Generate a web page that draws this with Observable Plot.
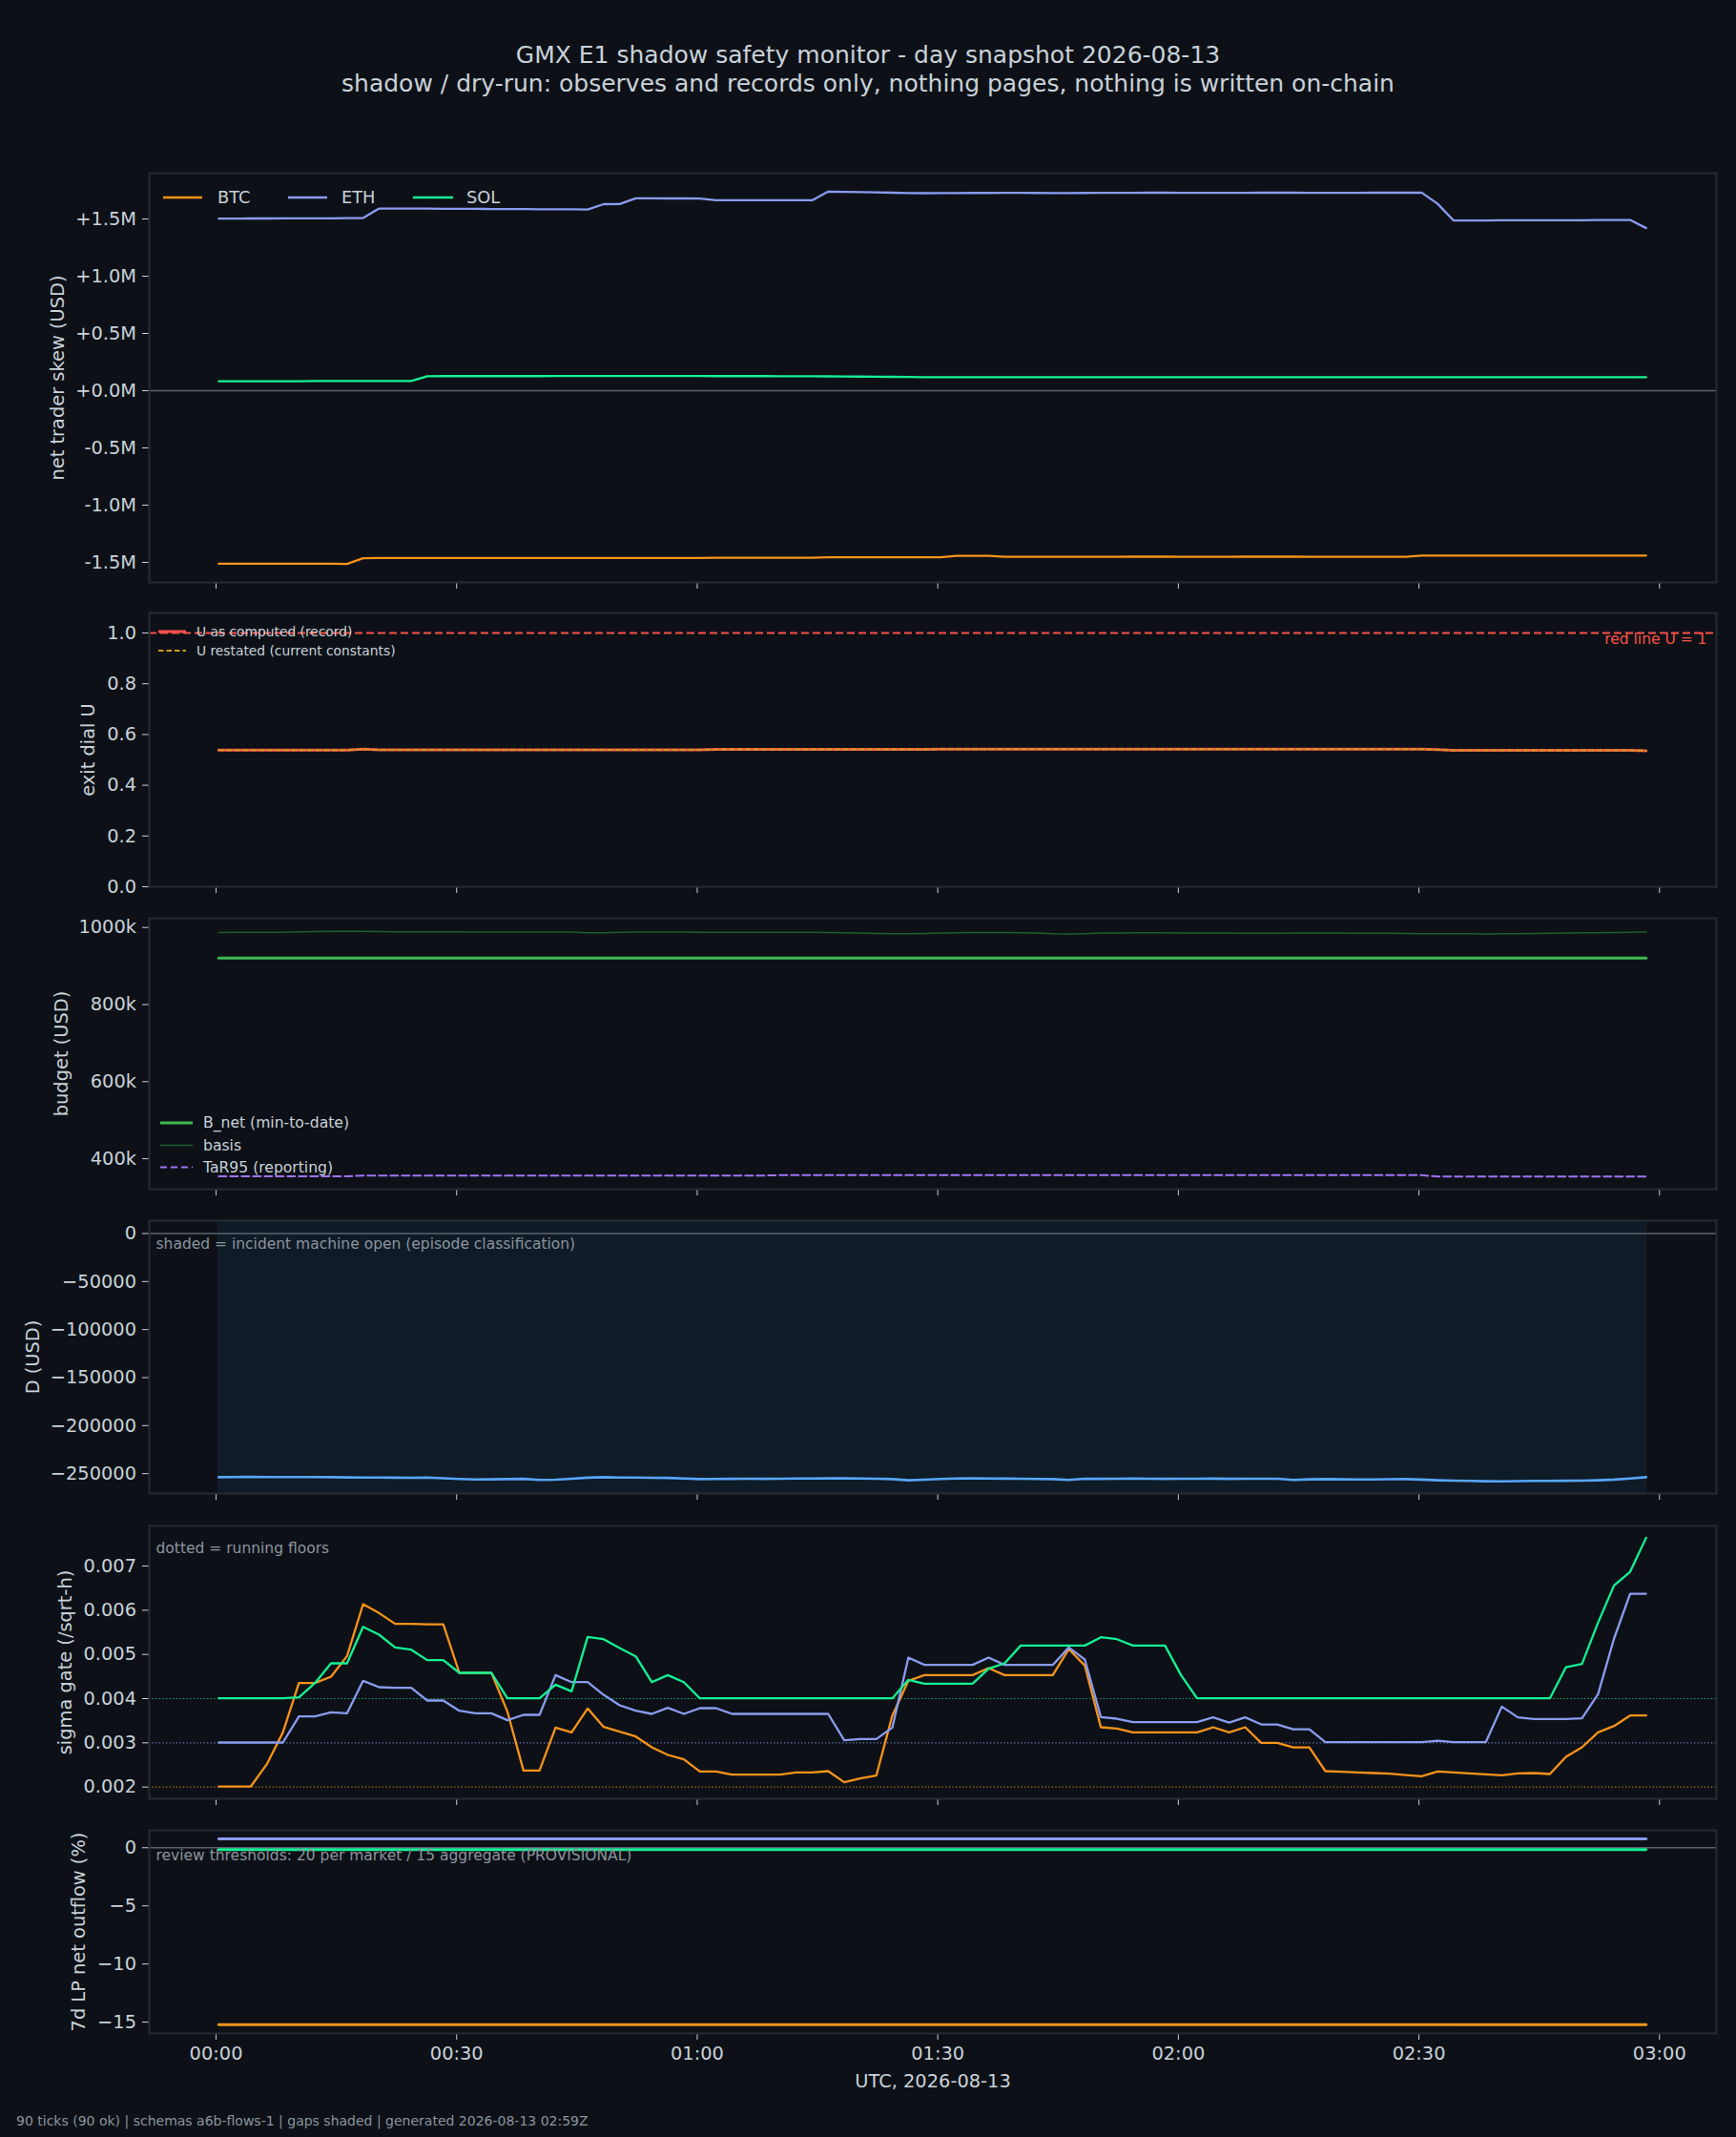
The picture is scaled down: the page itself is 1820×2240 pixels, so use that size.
<!DOCTYPE html>
<html><head><meta charset="utf-8">
<script src="https://cdn.jsdelivr.net/npm/d3@7"></script>
<script src="https://cdn.jsdelivr.net/npm/@observablehq/plot@0.6"></script>
<style>
html,body{margin:0;padding:0;background:#0d1117;}
#root{position:relative;width:1820px;height:2240px;background:#0d1117;font-family:"DejaVu Sans",sans-serif;color:#c9d1d9;overflow:hidden}
.title{position:absolute;left:0;width:1820px;text-align:center;font-size:25px;line-height:30px;white-space:pre}
.panel{position:absolute;left:0}
.footer{position:absolute;left:17px;font-size:14px;line-height:20px;color:#8b949e;white-space:pre}
</style></head><body><div id="root"></div>
<script>
// ---------------- data ----------------
const titleLine = "GMX E1 shadow safety monitor - day snapshot 2026-08-13";
const subtitleLine = "shadow / dry-run: observes and records only, nothing pages, nothing is written on-chain";
const footerText = "90 ticks (90 ok) | schemas a6b-flows-1 | gaps shaded | generated 2026-08-13 02:59Z";
const xAxisTitle = "UTC, 2026-08-13";
const snapshotDate = "2026-08-13";
const tickStart = "2026-08-13T00:00:20Z";
const tickStepMinutes = 2;
const tickCount = 90;
const xTickLabels = ["00:00","00:30","01:00","01:30","02:00","02:30","03:00"];

const markets = ["BTC","ETH","SOL"];
const marketColors = ["#f7931a","#8a9cf0","#14f195"];

const skewBTC = [-1511000,-1511000,-1511000,-1511000,-1511000,-1511000,-1511000,-1511000,-1514000,-1464000,
-1462000,-1462000,-1462000,-1462000,-1462000,-1462000,-1462000,-1462000,-1462000,-1462000,
-1462000,-1461000,-1461000,-1461000,-1461000,-1461000,-1461000,-1461000,-1461000,-1461000,
-1461000,-1460000,-1460000,-1460000,-1460000,-1460000,-1460000,-1460000,-1455000,-1455000,
-1455000,-1455000,-1455000,-1455000,-1455000,-1455000,-1443000,-1443000,-1443000,-1451000,
-1451000,-1451000,-1451000,-1451000,-1451000,-1451000,-1451000,-1450000,-1450000,-1450000,
-1451000,-1451000,-1451000,-1451000,-1450000,-1450000,-1450000,-1450000,-1451000,-1451000,
-1451000,-1451000,-1451000,-1451000,-1451000,-1440000,-1440000,-1440000,-1440000,-1440000,
-1440000,-1440000,-1440000,-1440000,-1440000,-1440000,-1440000,-1440000,-1440000,-1440000];
const skewETH = [1503000,1503000,1504000,1504000,1505000,1505000,1506000,1506000,1507000,1508000,
1591000,1591000,1590000,1590000,1589000,1588000,1588000,1587000,1586000,1586000,
1585000,1584000,1584000,1583000,1629000,1630000,1680000,1680000,1679000,1679000,
1678000,1663000,1663000,1663000,1663000,1663000,1663000,1663000,1739000,1737000,
1735000,1732000,1729000,1726000,1725000,1726000,1726000,1727000,1727000,1728000,
1728000,1727000,1726000,1726000,1727000,1728000,1728000,1728000,1729000,1729000,
1728000,1728000,1728000,1728000,1728000,1729000,1729000,1729000,1728000,1728000,
1728000,1728000,1729000,1729000,1729000,1730000,1632000,1486000,1487000,1487000,
1488000,1488000,1488000,1489000,1489000,1489000,1490000,1490000,1491000,1420000];
const skewSOL = [83000,83000,83000,83000,83000,83000,84000,84000,84000,84000,
84000,84000,84000,126000,127000,127000,127000,127000,127000,127000,
127000,128000,128000,128000,128000,128000,128000,128000,128000,128000,
128000,127000,127000,127000,127000,126000,126000,126000,125000,124000,
123000,122000,121000,119000,118000,117000,117000,117000,117000,118000,
118000,117000,117000,117000,117000,117000,117000,117000,117000,117000,
117000,117000,117000,117000,117000,117000,117000,117000,117000,117000,
117000,117000,117000,117000,117000,117000,117000,117000,117000,117000,
117000,117000,117000,117000,117000,117000,117000,117000,117000,117000];

const uLabels = ["U as computed (record)","U restated (current constants)"];
const uRedLine = 1.0;
const uRedLineLabel = "red line U = 1";
const uComputed = [0.5386,0.5386,0.5386,0.5386,0.5386,0.5386,0.5386,0.5386,0.5386,0.5425,
0.5395,0.5395,0.5395,0.5395,0.5395,0.5395,0.5395,0.5395,0.5395,0.5395,
0.5395,0.5395,0.5395,0.5395,0.5395,0.5395,0.5395,0.5395,0.5395,0.5395,
0.5395,0.5410,0.5410,0.5410,0.5410,0.5410,0.5410,0.5410,0.5410,0.5410,
0.5410,0.5410,0.5410,0.5410,0.5410,0.5425,0.5425,0.5425,0.5425,0.5425,
0.5425,0.5425,0.5425,0.5425,0.5425,0.5425,0.5425,0.5425,0.5425,0.5425,
0.5425,0.5425,0.5425,0.5425,0.5425,0.5425,0.5425,0.5425,0.5425,0.5425,
0.5425,0.5425,0.5425,0.5425,0.5425,0.5425,0.5400,0.5372,0.5372,0.5372,
0.5372,0.5372,0.5372,0.5372,0.5372,0.5372,0.5372,0.5372,0.5372,0.5360];
const uRestated = [0.5386,0.5386,0.5386,0.5386,0.5386,0.5386,0.5386,0.5386,0.5386,0.5425,
0.5395,0.5395,0.5395,0.5395,0.5395,0.5395,0.5395,0.5395,0.5395,0.5395,
0.5395,0.5395,0.5395,0.5395,0.5395,0.5395,0.5395,0.5395,0.5395,0.5395,
0.5395,0.5410,0.5410,0.5410,0.5410,0.5410,0.5410,0.5410,0.5410,0.5410,
0.5410,0.5410,0.5410,0.5410,0.5410,0.5425,0.5425,0.5425,0.5425,0.5425,
0.5425,0.5425,0.5425,0.5425,0.5425,0.5425,0.5425,0.5425,0.5425,0.5425,
0.5425,0.5425,0.5425,0.5425,0.5425,0.5425,0.5425,0.5425,0.5425,0.5425,
0.5425,0.5425,0.5425,0.5425,0.5425,0.5425,0.5400,0.5372,0.5372,0.5372,
0.5372,0.5372,0.5372,0.5372,0.5372,0.5372,0.5372,0.5372,0.5372,0.5360];

const budgetLabels = ["B_net (min-to-date)","basis","TaR95 (reporting)"];
const budgetNet = [920800,920800,920800,920800,920800,920800,920800,920800,920800,920800,
920800,920800,920800,920800,920800,920800,920800,920800,920800,920800,
920800,920800,920800,920800,920800,920800,920800,920800,920800,920800,
920800,920800,920800,920800,920800,920800,920800,920800,920800,920800,
920800,920800,920800,920800,920800,920800,920800,920800,920800,920800,
920800,920800,920800,920800,920800,920800,920800,920800,920800,920800,
920800,920800,920800,920800,920800,920800,920800,920800,920800,920800,
920800,920800,920800,920800,920800,920800,920800,920800,920800,920800,
920800,920800,920800,920800,920800,920800,920800,920800,920800,920800];
const budgetBasis = [987000,987500,987500,987500,987500,989000,989500,990000,990000,990000,
989500,989000,989000,989000,989000,988500,988000,988000,988000,988000,
988000,988000,988000,986000,986000,987500,988000,988000,988000,988000,
987500,987500,987500,987500,987500,987500,987500,987500,987000,986500,
985500,984500,984000,984000,984500,985500,986500,987000,987000,987000,
986500,985500,983500,983000,984000,985500,985500,986000,986000,986000,
985500,985500,985500,985500,985000,985000,985000,985500,985500,985500,
985500,985000,985000,985000,984500,984000,984000,983500,983500,983000,
983500,984000,984500,985000,985500,986000,986500,987000,987500,988500];
const budgetTaR95 = [354500,354500,354500,354500,354500,354500,354500,354500,354500,356500,
356500,356500,356500,356500,356500,356500,356500,356500,356500,356500,
356500,356500,356500,356500,356500,356500,356500,356500,356500,356500,
356500,356500,356500,356500,356500,357300,357300,357300,357300,357300,
357300,357300,357300,357300,357300,357300,357300,357300,357300,357300,
357300,357300,357300,357300,357300,357300,357300,357300,357300,357300,
357300,357300,357300,357300,357300,357300,357300,357300,357300,357300,
357300,357300,357300,357300,357300,357300,353700,353700,353700,353700,
353700,353700,353700,353700,353700,353700,353700,353700,353700,353700];

const drawdownD = [-253700,-253500,-253400,-253500,-253500,-253600,-253500,-253700,-253900,-254000,
-254100,-254200,-254300,-254100,-254800,-255500,-256100,-255900,-255700,-255400,
-256500,-256300,-255300,-254200,-253700,-254000,-254100,-254300,-254400,-255000,
-255700,-255500,-255400,-255300,-255400,-255300,-255100,-255000,-254900,-254900,
-255100,-255300,-255700,-256900,-256300,-255600,-255000,-254900,-255000,-255200,
-255300,-255500,-255700,-256500,-255300,-255400,-255300,-255200,-255300,-255400,
-255300,-255300,-255200,-255400,-255300,-255300,-255300,-256500,-255900,-255700,
-255900,-256100,-256000,-255800,-255700,-256200,-256900,-257300,-257600,-257900,
-258100,-257800,-257600,-257500,-257400,-257300,-256900,-256200,-255000,-253700];
const incidentEpisodes = [{start: "00:00:20", end: "02:58:20"}];
const incidentNote = "shaded = incident machine open (episode classification)";

const sigmaBTC = [0.002014,0.002014,0.002014,0.002518,0.003237,0.004353,0.004353,0.004496,0.004964,0.006137,
0.005935,0.005691,0.005691,0.005683,0.005683,0.004583,0.004583,0.004583,0.003705,0.002374,
0.002374,0.003345,0.003237,0.003777,0.003360,0.003252,0.003144,0.002899,0.002727,0.002626,
0.002353,0.002353,0.002281,0.002281,0.002281,0.002281,0.002331,0.002331,0.002360,0.002108,
0.002194,0.002259,0.003619,0.004403,0.004532,0.004532,0.004532,0.004532,0.004691,0.004532,
0.004532,0.004532,0.004532,0.005122,0.004748,0.003353,0.003324,0.003237,0.003237,0.003237,
0.003237,0.003237,0.003353,0.003237,0.003353,0.003000,0.003000,0.002899,0.002899,0.002360,
0.002345,0.002331,0.002317,0.002302,0.002273,0.002245,0.002353,0.002331,0.002309,0.002288,
0.002266,0.002309,0.002317,0.002295,0.002683,0.002899,0.003237,0.003381,0.003619,0.003619];
const sigmaETH = [0.003007,0.003007,0.003007,0.003007,0.003007,0.003597,0.003597,0.003691,0.003669,0.004403,
0.004259,0.004245,0.004245,0.003957,0.003957,0.003727,0.003669,0.003669,0.003511,0.003633,
0.003633,0.004532,0.004374,0.004374,0.004086,0.003849,0.003727,0.003655,0.003791,0.003655,
0.003784,0.003784,0.003655,0.003655,0.003655,0.003655,0.003655,0.003655,0.003655,0.003058,
0.003086,0.003086,0.003345,0.004928,0.004763,0.004763,0.004763,0.004763,0.004928,0.004763,
0.004763,0.004763,0.004763,0.005158,0.004885,0.003583,0.003547,0.003468,0.003468,0.003468,
0.003468,0.003468,0.003576,0.003460,0.003576,0.003417,0.003417,0.003309,0.003309,0.003014,
0.003014,0.003014,0.003014,0.003014,0.003014,0.003014,0.003050,0.003014,0.003014,0.003014,
0.003820,0.003576,0.003540,0.003540,0.003540,0.003554,0.004101,0.005360,0.006374,0.006374];
const sigmaSOL = [0.004007,0.004007,0.004007,0.004007,0.004007,0.004029,0.004353,0.004799,0.004799,0.005626,
0.005446,0.005158,0.005108,0.004871,0.004871,0.004583,0.004583,0.004583,0.004007,0.004007,
0.004007,0.004317,0.004165,0.005396,0.005345,0.005144,0.004957,0.004374,0.004532,0.004374,
0.004007,0.004007,0.004007,0.004007,0.004007,0.004007,0.004007,0.004007,0.004007,0.004007,
0.004007,0.004007,0.004007,0.004424,0.004338,0.004338,0.004338,0.004338,0.004676,0.004799,
0.005201,0.005201,0.005201,0.005201,0.005201,0.005388,0.005345,0.005201,0.005201,0.005201,
0.004532,0.004007,0.004007,0.004007,0.004007,0.004007,0.004007,0.004007,0.004007,0.004007,
0.004007,0.004007,0.004007,0.004007,0.004007,0.004007,0.004007,0.004007,0.004007,0.004007,
0.004007,0.004007,0.004007,0.004007,0.004712,0.004784,0.005719,0.006561,0.006870,0.007640];
const sigmaFloors = [0.002, 0.003, 0.004];
const sigmaNote = "dotted = running floors";

const lpBTC = [-15.22,-15.22,-15.22,-15.22,-15.22,-15.22,-15.22,-15.22,-15.22,-15.22,
-15.22,-15.22,-15.22,-15.22,-15.22,-15.22,-15.22,-15.22,-15.22,-15.22,
-15.22,-15.22,-15.22,-15.22,-15.22,-15.22,-15.22,-15.22,-15.22,-15.22,
-15.22,-15.22,-15.22,-15.22,-15.22,-15.22,-15.22,-15.22,-15.22,-15.22,
-15.22,-15.22,-15.22,-15.22,-15.22,-15.22,-15.22,-15.22,-15.22,-15.22,
-15.22,-15.22,-15.22,-15.22,-15.22,-15.22,-15.22,-15.22,-15.22,-15.22,
-15.22,-15.22,-15.22,-15.22,-15.22,-15.22,-15.22,-15.22,-15.22,-15.22,
-15.22,-15.22,-15.22,-15.22,-15.22,-15.22,-15.22,-15.22,-15.22,-15.22,
-15.22,-15.22,-15.22,-15.22,-15.22,-15.22,-15.22,-15.22,-15.22,-15.22];
const lpETH = [0.76,0.76,0.76,0.76,0.76,0.76,0.76,0.76,0.76,0.76,
0.76,0.76,0.76,0.76,0.76,0.76,0.76,0.76,0.76,0.76,
0.76,0.76,0.76,0.76,0.76,0.76,0.76,0.76,0.76,0.76,
0.76,0.76,0.76,0.76,0.76,0.76,0.76,0.76,0.76,0.76,
0.76,0.76,0.76,0.76,0.76,0.76,0.76,0.76,0.76,0.76,
0.76,0.76,0.76,0.76,0.76,0.76,0.76,0.76,0.76,0.76,
0.76,0.76,0.76,0.76,0.76,0.76,0.76,0.76,0.76,0.76,
0.76,0.76,0.76,0.76,0.76,0.76,0.76,0.76,0.76,0.76,
0.76,0.76,0.76,0.76,0.76,0.76,0.76,0.76,0.76,0.76];
const lpSOL = [-0.16,-0.16,-0.16,-0.16,-0.16,-0.16,-0.16,-0.16,-0.16,-0.16,
-0.16,-0.16,-0.16,-0.16,-0.16,-0.16,-0.16,-0.16,-0.16,-0.16,
-0.16,-0.16,-0.16,-0.16,-0.16,-0.16,-0.16,-0.16,-0.16,-0.16,
-0.16,-0.16,-0.16,-0.16,-0.16,-0.16,-0.16,-0.16,-0.16,-0.16,
-0.16,-0.16,-0.16,-0.16,-0.16,-0.16,-0.16,-0.16,-0.16,-0.16,
-0.16,-0.16,-0.16,-0.16,-0.16,-0.16,-0.16,-0.16,-0.16,-0.16,
-0.16,-0.16,-0.16,-0.16,-0.16,-0.16,-0.16,-0.16,-0.16,-0.16,
-0.16,-0.16,-0.16,-0.16,-0.16,-0.16,-0.16,-0.16,-0.16,-0.16,
-0.16,-0.16,-0.16,-0.16,-0.16,-0.16,-0.16,-0.16,-0.16,-0.16];
const lpNote = "review thresholds: 20 per market / 15 aggregate (PROVISIONAL)";

const skewTicks = [-1.5e6,-1e6,-0.5e6,0,0.5e6,1e6,1.5e6];
const uTicks = [0,0.2,0.4,0.6,0.8,1.0];
const budgetTicks = [400000,600000,800000,1000000];
const dTicks = [-250000,-200000,-150000,-100000,-50000,0];
const sigmaTicks = [0.002,0.003,0.004,0.005,0.006,0.007];
const lpTicks = [-15,-10,-5,0];

const yLabels = ["net trader skew (USD)","exit dial U","budget (USD)","D (USD)","sigma gate (/sqrt-h)","7d LP net outflow (%)"];

// ---------------- style ----------------
const W = 1820, FL = 156, FR = 1799;
const TXT = "#c9d1d9", GRAY = "#8b949e", FRAME = "#262b33", ZERO = "#5c636e";
const FONT = "DejaVu Sans";
const root = document.getElementById("root");

const t0 = Date.parse(tickStart);
const dayStart = Date.parse(`${snapshotDate}T00:00:00Z`);
const times = d3.range(tickCount).map(i => new Date(t0 + i * tickStepMinutes * 60000));
const xTicks = xTickLabels.map(l => new Date(`${snapshotDate}T${l}:00Z`));
const xDomain = [new Date(dayStart - 8.33 * 60000), new Date(dayStart + 187.1 * 60000)];
const series = vals => times.map((t, i) => ({t, v: vals[i]}));

function addDiv(cls, top, text) {
  const d = document.createElement("div");
  d.className = cls; d.style.top = top + "px"; d.textContent = text;
  root.appendChild(d); return d;
}
addDiv("title", 43, titleLine);
addDiv("title", 73, subtitleLine);
addDiv("footer", 2213, footerText);

function panel({ft, fb, mt = 6, mb = 14, yDomain, yTicks, yFmt, marks, last = false, ylabel, ylabelX}) {
  const svg = Plot.plot({
    width: W, height: (fb - ft) + mt + mb,
    marginLeft: FL, marginRight: W - FR, marginTop: mt, marginBottom: mb,
    style: {background: "transparent", color: TXT, fontFamily: FONT, fontSize: "19.4px", overflow: "visible"},
    x: {type: "utc", domain: xDomain, ticks: xTicks,
        tickFormat: last ? (d => xTickLabels[xTicks.findIndex(t => +t === +d)]) : (() => ""),
        tickSize: 7, tickPadding: 6.5, label: null},
    y: {domain: yDomain, ticks: yTicks, tickFormat: yFmt, tickSize: 7, tickPadding: 6.5, label: null},
    marks: [
      ...marks,
      Plot.frame({stroke: FRAME, strokeWidth: 2}),
      Plot.text([ylabel], {frameAnchor: "left", dx: -(FL - ylabelX), rotate: -90, text: d => d,
        textAnchor: "middle", lineAnchor: "middle", fill: TXT, fontSize: 19.4})
    ]
  });
  const wrap = document.createElement("div");
  wrap.className = "panel"; wrap.style.top = (ft - mt) + "px";
  wrap.appendChild(svg); root.appendChild(wrap);
  return {svg, off: ft - mt};
}

function legend(p, items, fontSize) {
  const g = d3.select(p.svg).append("g").attr("font-family", FONT).attr("font-size", fontSize).attr("text-anchor", "start");
  items.forEach(it => {
    const y = it.y - p.off;
    g.append("line").attr("x1", it.x1).attr("x2", it.x2).attr("y1", y).attr("y2", y)
      .attr("stroke", it.color).attr("stroke-width", it.width).attr("stroke-dasharray", it.dash || null);
    g.append("text").attr("x", it.tx).attr("y", y).attr("dy", "0.35em").attr("text-anchor", "start").attr("fill", TXT).text(it.label);
  });
}

const note = (s, dy) => Plot.text([s], {frameAnchor: "top-left", dx: 7, dy, text: d => d, textAnchor: "start", lineAnchor: "middle", fill: GRAY, fontSize: 15.5});

// Panel 1: net trader skew
const skewVals = [skewBTC, skewETH, skewSOL];
const p1 = panel({
  ft: 181, fb: 610, yDomain: [-1.675e6, 1.9e6], yTicks: skewTicks,
  yFmt: d => (d >= 0 ? "+" : "-") + (Math.abs(d) / 1e6).toFixed(1) + "M",
  ylabel: yLabels[0], ylabelX: 60,
  marks: [
    Plot.ruleY([0], {stroke: ZERO, strokeWidth: 1.5}),
    ...skewVals.map((v, k) => Plot.line(series(v), {x: "t", y: "v", stroke: marketColors[k], strokeWidth: 2.3}))
  ]
});
legend(p1, [
  {x1: 171, x2: 212, tx: 228, y: 207, color: marketColors[0], width: 2.6, label: markets[0]},
  {x1: 302, x2: 343, tx: 358, y: 207, color: marketColors[1], width: 2.6, label: markets[1]},
  {x1: 433, x2: 475, tx: 489, y: 207, color: marketColors[2], width: 2.6, label: markets[2]}
], 17.8);

// Panel 2: exit dial U
const p2 = panel({
  ft: 642, fb: 929, yDomain: [0, 1.079], yTicks: uTicks, yFmt: d3.format(".1f"),
  ylabel: yLabels[1], ylabelX: 92,
  marks: [
    Plot.ruleY([uRedLine], {stroke: "#f85149", strokeWidth: 1.8, strokeDasharray: "8,4"}),
    Plot.line(series(uComputed), {x: "t", y: "v", stroke: "#f85149", strokeWidth: 3}),
    Plot.line(series(uRestated), {x: "t", y: "v", stroke: "#d29922", strokeWidth: 2, strokeDasharray: "5,3.5"}),
    Plot.text([uRedLineLabel], {frameAnchor: "top-right", dx: -10, dy: 28, text: d => d, textAnchor: "end", lineAnchor: "middle", fill: "#f85149", fontSize: 15.5})
  ]
});
legend(p2, [
  {x1: 166, x2: 195, tx: 206, y: 662, color: "#f85149", width: 3, label: uLabels[0]},
  {x1: 166, x2: 195, tx: 206, y: 682, color: "#d29922", width: 2, dash: "5.5,3", label: uLabels[1]}
], 13.8);

// Panel 3: budget
const p3 = panel({
  ft: 962, fb: 1246, yDomain: [321000, 1024000], yTicks: budgetTicks, yFmt: d => (d / 1000) + "k",
  ylabel: yLabels[2], ylabelX: 64,
  marks: [
    Plot.line(series(budgetNet), {x: "t", y: "v", stroke: "#3fb950", strokeWidth: 3}),
    Plot.line(series(budgetBasis), {x: "t", y: "v", stroke: "#1d5e2c", strokeWidth: 1.5}),
    Plot.line(series(budgetTaR95), {x: "t", y: "v", stroke: "#a371f7", strokeWidth: 2, strokeDasharray: "8,4"})
  ]
});
legend(p3, [
  {x1: 168, x2: 202, tx: 213, y: 1177, color: "#3fb950", width: 3, label: budgetLabels[0]},
  {x1: 168, x2: 202, tx: 213, y: 1200.5, color: "#1d5e2c", width: 1.5, label: budgetLabels[1]},
  {x1: 168, x2: 202, tx: 213, y: 1223.5, color: "#a371f7", width: 2, dash: "7,4", label: budgetLabels[2]}
], 15.6);

// Panel 4: D
const ep = incidentEpisodes.map(e => ({x1: new Date(`${snapshotDate}T${e.start}Z`), x2: new Date(`${snapshotDate}T${e.end}Z`)}));
const p4 = panel({
  ft: 1279, fb: 1565, yDomain: [-270700, 13400], yTicks: dTicks,
  yFmt: d => d === 0 ? "0" : "\u2212" + Math.abs(d),
  ylabel: yLabels[3], ylabelX: 34,
  marks: [
    Plot.rect(ep, {x1: "x1", x2: "x2", fill: "#0f1b26", stroke: "#142230", strokeWidth: 1}),
    Plot.ruleY([0], {stroke: ZERO, strokeWidth: 1.5}),
    Plot.line(series(drawdownD), {x: "t", y: "v", stroke: "#58a6ff", strokeWidth: 2.6}),
    note(incidentNote, 24.5)
  ]
});

// Panel 5: sigma gate
const sigmaVals = [sigmaBTC, sigmaETH, sigmaSOL];
const p5 = panel({
  ft: 1599, fb: 1885, yDomain: [0.001734, 0.007907], yTicks: sigmaTicks, yFmt: d3.format(".3f"),
  ylabel: yLabels[4], ylabelX: 68,
  marks: [
    ...sigmaFloors.map((f, k) => Plot.ruleY([f], {stroke: marketColors[k], strokeWidth: 1.2, strokeDasharray: "1.2,2.4", strokeOpacity: 0.8})),
    ...sigmaVals.map((v, k) => Plot.line(series(v), {x: "t", y: "v", stroke: marketColors[k], strokeWidth: 2.3})),
    note(sigmaNote, 23.5)
  ]
});

// Panel 6: 7d LP net outflow
const lpVals = [lpBTC, lpETH, lpSOL];
const p6 = panel({
  ft: 1918, fb: 2131, mb: 70, yDomain: [-15.98, 1.5], yTicks: lpTicks,
  yFmt: d => d < 0 ? "\u2212" + (-d) : String(d),
  ylabel: yLabels[5], ylabelX: 82, last: true,
  marks: [
    Plot.ruleY([0], {stroke: ZERO, strokeWidth: 1.5}),
    ...lpVals.map((v, k) => Plot.line(series(v), {x: "t", y: "v", stroke: marketColors[k], strokeWidth: 2.8})),
    note(lpNote, 27),
    Plot.text([xAxisTitle], {frameAnchor: "bottom", dy: 56, text: d => d, fill: TXT, fontSize: 19.4})
  ]
});
</script>
</body></html>
